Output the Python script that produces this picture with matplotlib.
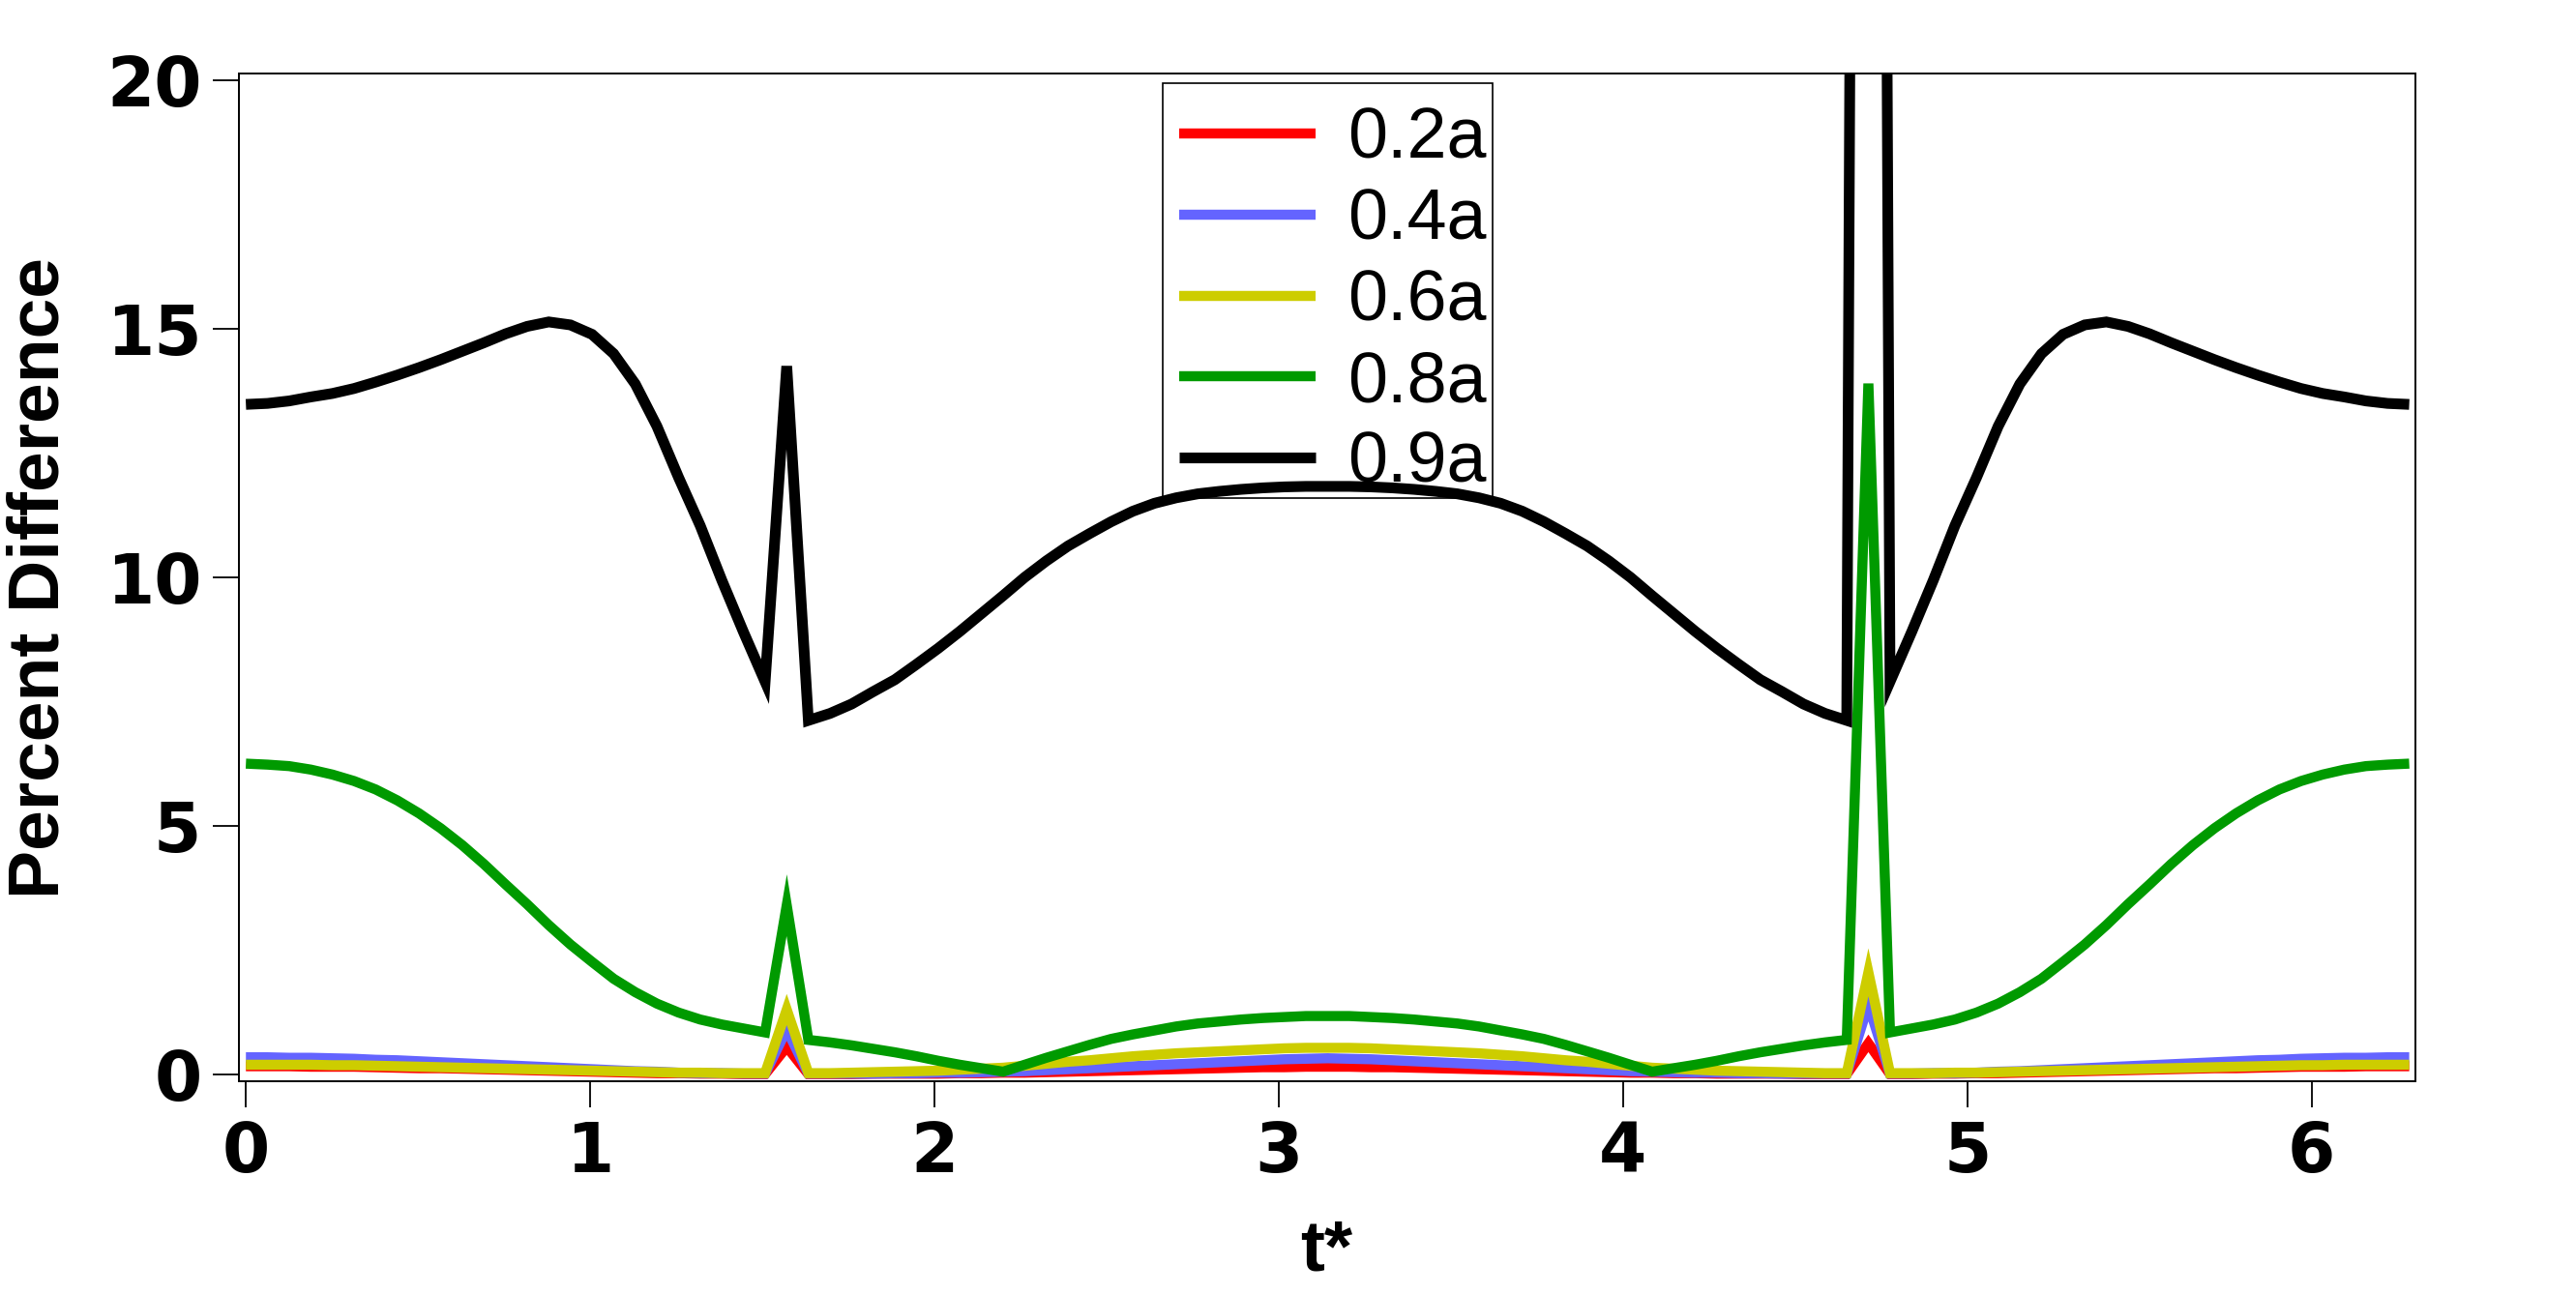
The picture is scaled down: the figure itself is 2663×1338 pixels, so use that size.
import matplotlib
matplotlib.use('Agg')
import matplotlib.pyplot as plt
from matplotlib.patches import Rectangle
import numpy as np

plt.rcParams['font.family'] = ['Liberation Sans', 'DejaVu Sans']

# t* grid: 101 samples over one period
t = np.linspace(0, 2 * np.pi, 101)

labels = ['0.2a', '0.4a', '0.6a', '0.8a', '0.9a']
colors = ['#FF0000', '#6464FF', '#CDCD00', '#009A00', '#000000']

red = [0.16, 0.16, 0.16, 0.15, 0.15, 0.15, 0.14, 0.13, 0.12, 0.12,
       0.11, 0.10, 0.09, 0.08, 0.07, 0.06, 0.05, 0.04, 0.03, 0.02,
       0.02, 0.01, 0.01, 0.00, 0.00, 0.55, 0.00, 0.00, 0.00, 0.01,
       0.01, 0.01, 0.01, 0.02, 0.02, 0.03, 0.03, 0.04, 0.05, 0.06,
       0.07, 0.08, 0.09, 0.10, 0.11, 0.12, 0.13, 0.14, 0.14, 0.15,
       0.15, 0.15, 0.14, 0.14, 0.13, 0.12, 0.11, 0.10, 0.09, 0.08,
       0.07, 0.06, 0.05, 0.04, 0.03, 0.03, 0.02, 0.02, 0.01, 0.01,
       0.01, 0.01, 0.00, 0.00, 0.00, 0.62, 0.00, 0.00, 0.01, 0.01,
       0.02, 0.02, 0.03, 0.04, 0.05, 0.06, 0.07, 0.08, 0.09, 0.10,
       0.11, 0.12, 0.12, 0.13, 0.14, 0.15, 0.15, 0.15, 0.16, 0.16,
       0.16]

blue = [0.34, 0.34, 0.33, 0.33, 0.32, 0.31, 0.29, 0.28, 0.26, 0.24,
        0.22, 0.20, 0.18, 0.16, 0.14, 0.12, 0.10, 0.08, 0.06, 0.05,
        0.03, 0.02, 0.02, 0.01, 0.01, 0.90, 0.01, 0.01, 0.01, 0.01,
        0.02, 0.02, 0.03, 0.03, 0.04, 0.05, 0.06, 0.08, 0.10, 0.12,
        0.14, 0.16, 0.18, 0.20, 0.22, 0.24, 0.26, 0.28, 0.30, 0.31,
        0.32, 0.31, 0.30, 0.28, 0.26, 0.24, 0.22, 0.20, 0.18, 0.16,
        0.14, 0.12, 0.10, 0.08, 0.06, 0.05, 0.04, 0.03, 0.03, 0.02,
        0.02, 0.01, 0.01, 0.01, 0.01, 1.40, 0.01, 0.01, 0.02, 0.02,
        0.03, 0.05, 0.06, 0.08, 0.10, 0.12, 0.14, 0.16, 0.18, 0.20,
        0.22, 0.24, 0.26, 0.28, 0.29, 0.31, 0.32, 0.33, 0.33, 0.34,
        0.34]

yellow = [0.19, 0.19, 0.19, 0.19, 0.18, 0.18, 0.17, 0.16, 0.15, 0.14,
          0.13, 0.12, 0.11, 0.10, 0.09, 0.08, 0.07, 0.06, 0.05, 0.04,
          0.03, 0.03, 0.02, 0.02, 0.02, 1.30, 0.02, 0.02, 0.03, 0.04,
          0.05, 0.06, 0.07, 0.09, 0.11, 0.13, 0.17, 0.21, 0.25, 0.28,
          0.32, 0.36, 0.39, 0.42, 0.44, 0.46, 0.48, 0.50, 0.52, 0.53,
          0.53, 0.53, 0.52, 0.50, 0.48, 0.46, 0.44, 0.42, 0.39, 0.36,
          0.32, 0.28, 0.25, 0.21, 0.17, 0.13, 0.11, 0.09, 0.07, 0.06,
          0.05, 0.04, 0.03, 0.02, 0.02, 2.05, 0.02, 0.02, 0.02, 0.03,
          0.03, 0.04, 0.05, 0.06, 0.07, 0.08, 0.09, 0.10, 0.11, 0.12,
          0.13, 0.14, 0.15, 0.16, 0.17, 0.18, 0.18, 0.19, 0.19, 0.19,
          0.19]

green = [6.25, 6.23, 6.20, 6.13, 6.03, 5.90, 5.73, 5.51, 5.25, 4.95,
         4.61, 4.23, 3.82, 3.42, 3.00, 2.61, 2.26, 1.92, 1.65, 1.42,
         1.24, 1.10, 1.00, 0.92, 0.84, 3.40, 0.69, 0.64, 0.58, 0.51,
         0.44, 0.36, 0.27, 0.19, 0.12, 0.05, 0.19, 0.33, 0.46, 0.59,
         0.71, 0.80, 0.88, 0.96, 1.02, 1.06, 1.10, 1.13, 1.15, 1.17,
         1.17, 1.17, 1.15, 1.13, 1.10, 1.06, 1.02, 0.96, 0.88, 0.80,
         0.71, 0.59, 0.46, 0.33, 0.19, 0.05, 0.12, 0.19, 0.27, 0.36,
         0.44, 0.51, 0.58, 0.64, 0.69, 13.90, 0.84, 0.92, 1.00, 1.10,
         1.24, 1.42, 1.65, 1.92, 2.26, 2.61, 3.00, 3.42, 3.82, 4.23,
         4.61, 4.95, 5.25, 5.51, 5.73, 5.90, 6.03, 6.13, 6.20, 6.23,
         6.25]

black = [13.48, 13.50, 13.55, 13.63, 13.70, 13.80, 13.93, 14.07, 14.22, 14.38,
         14.55, 14.72, 14.90, 15.05, 15.14, 15.08, 14.89, 14.50, 13.89, 13.04,
         12.01, 11.04, 9.94, 8.90, 7.90, 14.25, 7.12, 7.26, 7.45, 7.70,
         7.94, 8.25, 8.57, 8.91, 9.27, 9.63, 10.00, 10.33, 10.63, 10.88,
         11.12, 11.33, 11.49, 11.60, 11.68, 11.73, 11.77, 11.80, 11.82, 11.83,
         11.83, 11.83, 11.82, 11.80, 11.77, 11.73, 11.68, 11.60, 11.49, 11.33,
         11.12, 10.88, 10.63, 10.33, 10.00, 9.63, 9.27, 8.91, 8.57, 8.25,
         7.94, 7.70, 7.45, 7.26, 7.12, 100.0, 7.90, 8.90, 9.94, 11.04,
         12.01, 13.04, 13.89, 14.50, 14.89, 15.08, 15.14, 15.05, 14.90, 14.72,
         14.55, 14.38, 14.22, 14.07, 13.93, 13.80, 13.70, 13.63, 13.55, 13.50,
         13.48]

series = [red, blue, yellow, green, black]
widths = [7.5, 7.5, 7.5, 7.5, 8.0]

W, H = 2663, 1338
fig = plt.figure(figsize=(W / 100, H / 100), dpi=100)
ax = fig.add_axes([0.0926, 0.1642, 0.8449, 0.7790])

for vals, lab, col, lw in zip(series, labels, colors, widths):
    ax.plot(t, vals, color=col, lw=lw, label=lab, zorder=3,
            solid_joinstyle='miter', solid_capstyle='butt')

ax.set_xlim(-0.0214, 6.30)
ax.set_ylim(-0.148, 20.14)
ax.set_xticks(range(7))
ax.set_yticks([0, 5, 10, 15, 20])
ax.tick_params(direction='out', length=19.5, width=1.3, labelsize=51)
ax.tick_params(axis='x', pad=9)
ax.tick_params(axis='y', pad=8)
for lbl in ax.get_xticklabels() + ax.get_yticklabels():
    lbl.set_fontfamily('DejaVu Sans')
    lbl.set_fontweight('bold')
for sp in ax.spines.values():
    sp.set_linewidth(1.4)

ax.set_xlabel('t*', fontsize=54, fontweight='bold', va='center')
ax.xaxis.set_label_coords(0.5, -0.1686)
ax.set_ylabel('Percent Difference', fontsize=54, fontweight='bold', va='center')
ax.yaxis.set_label_coords(-0.0914, 0.5)

# legend box (drawn under the curves, as in the original)
frame = Rectangle((1202 / W, 1 - 515 / H), 341 / W, 429 / H, transform=fig.transFigure,
                  facecolor='white', edgecolor='black', lw=1.2, zorder=2, clip_on=False)
ax.add_patch(frame)
leg = ax.legend(loc='upper left', bbox_to_anchor=(1219 / W, 1 - 110 / H),
                bbox_transform=fig.transFigure, fontsize=53, handlelength=1.92,
                handletextpad=0.45, borderpad=0, labelspacing=0.2,
                borderaxespad=0, frameon=False)
leg.set_zorder(2.5)

fig.savefig('out.png', dpi=100)
